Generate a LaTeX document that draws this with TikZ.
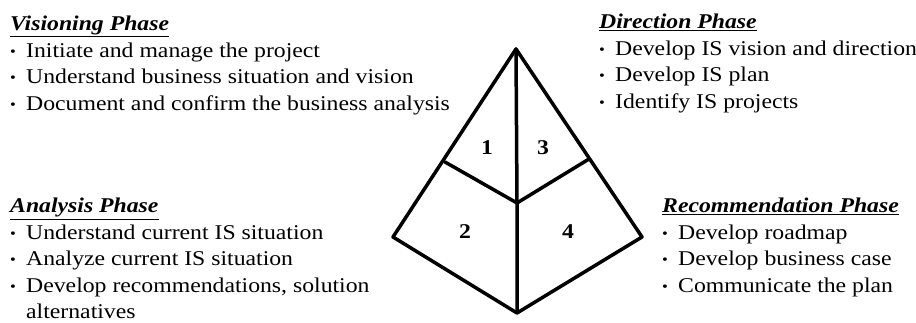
\documentclass[tikz,border=0pt]{standalone}
\usepackage{fontspec}
\setmainfont{Liberation Serif}[FakeStretch=1.13]
\usetikzlibrary{positioning}

\tikzset{
  phase/.style={anchor=north west, align=left, inner sep=0pt,
    font=\fontsize{21}{26.5}\selectfont},
  edge/.style={line width=3.5pt, line join=round, line cap=round},
  num/.style={inner sep=0pt, font=\fontsize{21}{22}\selectfont\bfseries}
}
\newcommand{\phasehead}[1]{\underline{\textbf{\textit{#1}}}}
\newcommand{\pitem}{\makebox[16pt][l]{\raisebox{1pt}{\scalebox{0.7}{\textbullet}}}}

\begin{document}
\begin{tikzpicture}[x=1pt,y=-1pt]
  \useasboundingbox (0,0) rectangle (916,323);
  %% corners of the pyramid
  \coordinate (apex)   at (516,49);
  \coordinate (lcorn)  at (393,237);
  \coordinate (rcorn)  at (642,237);
  \coordinate (bottom) at (517,313);
  \coordinate (centre) at (517,203);
  \coordinate (lmid)   at (445,162);
  \coordinate (rmid)   at (589,159);

  \draw[edge] (apex) -- (lcorn) -- (bottom) -- (rcorn) -- cycle;
  \draw[edge] (apex) -- (centre) -- (bottom);
  \foreach \side in {lmid,rmid} {   %the two cross lines
    \draw[edge] (\side) -- (centre);
  }

  %% quadrant numbers
  \node[num] (n1) at (487,148) {1};
  \node[num] (n3) at (543,148) {3};
  \node[num] (n2) at (465,232) {2};
  \node[num] (n4) at (568,232) {4};

  %% the four phase texts
  \node[phase] (visioning) at (10,16) {\phasehead{Visioning Phase}\\
    \pitem Initiate and manage the project\\
    \pitem Understand business situation and vision\\
    \pitem Document and confirm the business analysis};
  \node[phase] (direction) at (599,14) {\phasehead{Direction Phase}\\
    \pitem Develop IS vision and direction\\
    \pitem Develop IS plan\\
    \pitem Identify IS projects};
  \node[phase] (analysis) at (10,198) {\phasehead{Analysis Phase}\\
    \pitem Understand current IS situation\\
    \pitem Analyze current IS situation\\
    \pitem Develop recommendations, solution\\
    \hspace*{16pt}alternatives};
  \node[phase] (recommendation) at (662,198) {\phasehead{Recommendation Phase}\\
    \pitem Develop roadmap\\
    \pitem Develop business case\\
    \pitem Communicate the plan};
\end{tikzpicture}
\end{document}
